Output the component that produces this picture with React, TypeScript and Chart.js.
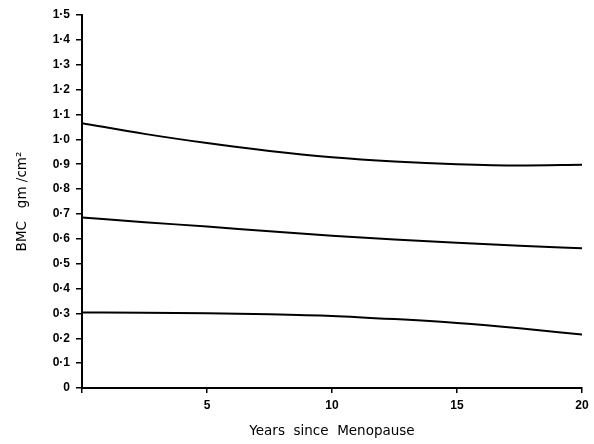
import React, { useEffect, useRef } from "react";
import { Chart, registerables } from "chart.js";

Chart.register(...registerables);

const years = [0, 2.5, 5, 7.5, 10, 12.5, 15, 17.5, 20];
const upperCurve = [1.065, 1.022, 0.985, 0.953, 0.928, 0.911, 0.9, 0.895, 0.898];
const middleCurve = [0.686, 0.667, 0.649, 0.63, 0.612, 0.597, 0.584, 0.572, 0.562];
const lowerCurve = [0.304, 0.303, 0.301, 0.297, 0.29, 0.277, 0.261, 0.24, 0.215];

const xTickValues = [5, 10, 15, 20];
const yTitle = "BMC   gm /cm\u00B2";
const xTitle = "Years  since  Menopause";

const FONT = "'Liberation Sans', Arial, sans-serif";
const TITLE_FONT = "'DejaVu Sans', sans-serif";

export default function App() {
  const ref = useRef<HTMLCanvasElement | null>(null);

  useEffect(() => {
    if (!ref.current) return;
    const mk = (vals: number[]) => ({
      data: years.map((x, i) => ({ x, y: vals[i] })),
      borderColor: "#000",
      borderWidth: 2,
      pointRadius: 0,
      tension: 0.4,
      cubicInterpolationMode: "monotone" as const,
      fill: false,
    });
    const chart = new Chart(ref.current, {
      type: "line",
      data: {
        datasets: [mk(upperCurve), mk(middleCurve), mk(lowerCurve)],
      },
      options: {
        animation: false,
        responsive: false,
        devicePixelRatio: 1,
        layout: { padding: { left: 0, top: 15, right: 12, bottom: 0 } },
        plugins: { legend: { display: false }, tooltip: { enabled: false } },
        scales: {
          x: {
            type: "linear",
            min: 0,
            max: 20,
            afterFit: (s: any) => {
              s.height = 56;
            },
            afterBuildTicks: (s: any) => {
              s.ticks = [0, ...xTickValues].map((v) => ({ value: v }));
            },
            ticks: {
              color: "#000",
              padding: 5,
              maxRotation: 0,
              font: { family: FONT, size: 12, weight: "bold" },
              callback: (v: any) => (Number(v) === 0 ? "" : String(v)),
            },
            grid: {
              drawOnChartArea: false,
              drawTicks: true,
              tickLength: 5,
              color: "#000",
              lineWidth: 1.5,
            },
            border: { display: true, color: "#000", width: 2 },
            title: {
              display: true,
              text: xTitle,
              color: "#000",
              font: { family: TITLE_FONT, size: 13.5 },
              padding: { top: 0, bottom: 4 },
            },
          },
          y: {
            type: "linear",
            min: 0,
            max: 1.5,
            afterFit: (s: any) => {
              s.width = 82;
            },
            ticks: {
              stepSize: 0.1,
              color: "#000",
              padding: 6,
              font: { family: FONT, size: 12, weight: "bold" },
              callback: (v: any) => {
                const r = Math.round(Number(v) * 10) / 10;
                return r === 0 ? "0" : r.toFixed(1).replace(".", "\u00B7");
              },
            },
            grid: {
              drawOnChartArea: false,
              drawTicks: true,
              tickLength: 6,
              color: "#000",
              lineWidth: 1.5,
            },
            border: { display: true, color: "#000", width: 2 },
            title: {
              display: true,
              text: yTitle,
              color: "#000",
              font: { family: TITLE_FONT, size: 13.5 },
              padding: { top: 14, bottom: 0 },
            },
          },
        },
      },
    });
    return () => chart.destroy();
  }, []);

  return (
    <div style={{ position: "absolute", left: 0, top: 0, width: 594, height: 444, background: "#fff" }}>
      <canvas ref={ref} width={594} height={444} style={{ display: "block" }} />
    </div>
  );
}
